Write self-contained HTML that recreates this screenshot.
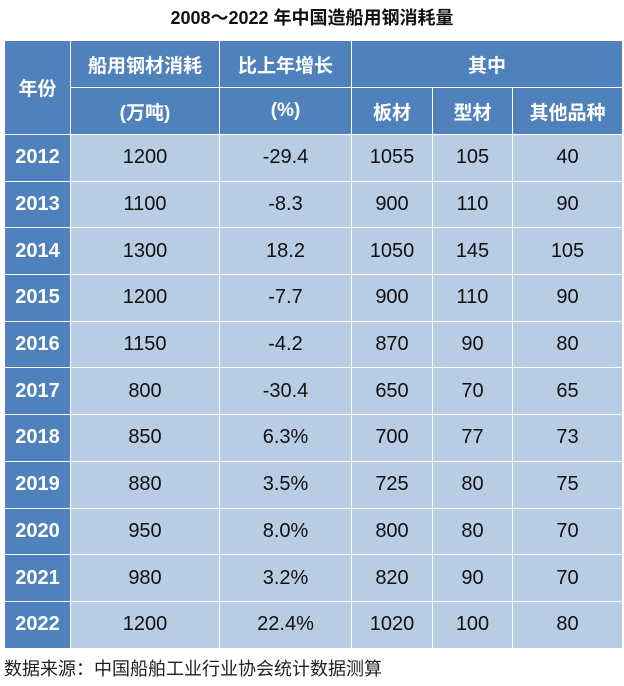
<!DOCTYPE html>
<html><head><meta charset="utf-8"><style>
body{margin:0;width:624px;height:686px;background:#fff;font-family:"Liberation Sans","Noto Sans CJK SC",sans-serif;position:relative;overflow:hidden}
.t{position:absolute;top:4px;left:0;width:624px;text-align:center;font-weight:bold;font-size:18px;color:#111}
table{position:absolute;left:4px;top:40px;border-collapse:collapse;width:618px;table-layout:fixed}
td{border:1px solid #fff;text-align:center;font-size:20px;color:#111;background:#b8cce4;height:45.7px;padding:0}
.h td,td.y{background:#4f81bd;color:#fff;font-weight:bold}
td.y{font-size:20px}
.h td{height:46px;font-size:19px}
.f{position:absolute;left:4px;top:655px;font-size:18px;color:#222}
</style></head><body>
<div class="t">2008～2022 年中国造船用钢消耗量</div>
<table>
<colgroup><col style="width:66px"><col style="width:149px"><col style="width:132px"><col style="width:81px"><col style="width:80px"><col style="width:110px"></colgroup>
<tr class="h"><td rowspan="2">年份</td><td>船用钢材消耗</td><td>比上年增长</td><td colspan="3">其中</td></tr>
<tr class="h"><td>(万吨)</td><td>(%)</td><td>板材</td><td>型材</td><td>其他品种</td></tr>
<tr><td class="y">2012</td><td>1200</td><td>-29.4</td><td>1055</td><td>105</td><td>40</td></tr>
<tr><td class="y">2013</td><td>1100</td><td>-8.3</td><td>900</td><td>110</td><td>90</td></tr>
<tr><td class="y">2014</td><td>1300</td><td>18.2</td><td>1050</td><td>145</td><td>105</td></tr>
<tr><td class="y">2015</td><td>1200</td><td>-7.7</td><td>900</td><td>110</td><td>90</td></tr>
<tr><td class="y">2016</td><td>1150</td><td>-4.2</td><td>870</td><td>90</td><td>80</td></tr>
<tr><td class="y">2017</td><td>800</td><td>-30.4</td><td>650</td><td>70</td><td>65</td></tr>
<tr><td class="y">2018</td><td>850</td><td>6.3%</td><td>700</td><td>77</td><td>73</td></tr>
<tr><td class="y">2019</td><td>880</td><td>3.5%</td><td>725</td><td>80</td><td>75</td></tr>
<tr><td class="y">2020</td><td>950</td><td>8.0%</td><td>800</td><td>80</td><td>70</td></tr>
<tr><td class="y">2021</td><td>980</td><td>3.2%</td><td>820</td><td>90</td><td>70</td></tr>
<tr><td class="y">2022</td><td>1200</td><td>22.4%</td><td>1020</td><td>100</td><td>80</td></tr>
</table>
<div class="f">数据来源：中国船舶工业行业协会统计数据测算</div>
</body></html>
